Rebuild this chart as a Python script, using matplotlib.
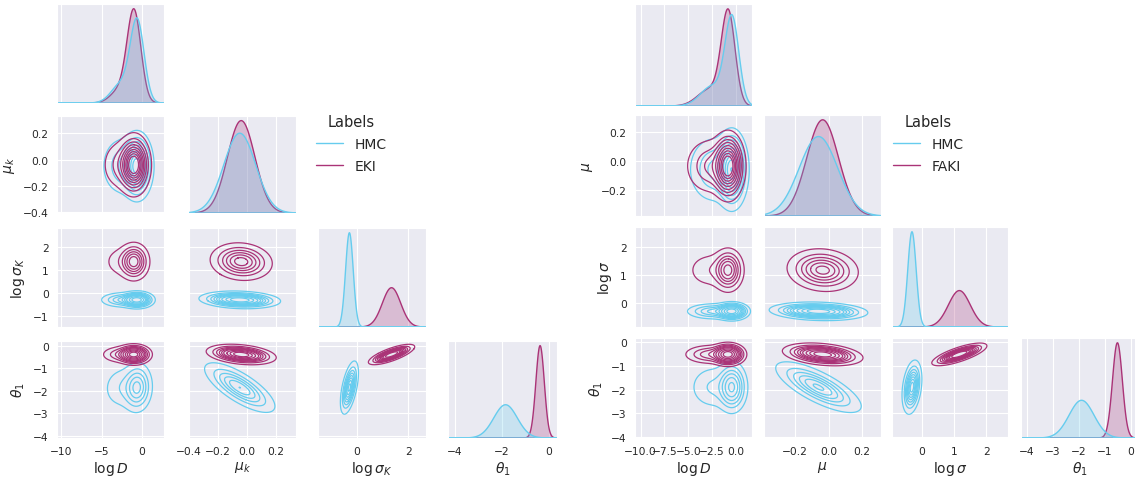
import numpy as np
import matplotlib.pyplot as plt
import seaborn as sns
from matplotlib.lines import Line2D

sns.set_style("darkgrid")
plt.rcParams["font.family"] = ["DejaVu Sans"]

W, H = 1135, 481

colors = ["#66CCEE", "#AA3377"]

# variable names per pair plot
left_names = [r"$\log D$", r"$\mu_k$", r"$\log\sigma_K$", r"$\theta_1$"]
right_names = [r"$\log D$", r"$\mu$", r"$\log\sigma$", r"$\theta_1$"]
left_methods = ["HMC", "EKI"]
right_methods = ["HMC", "FAKI"]

# posterior shapes (order: log D, mu, log sigma, theta_1)
# tail = extra component on log D: mean, sd, weight
left_hmc_mean = [-0.6, -0.05, -0.30, -1.85]
left_hmc_sd = [0.85, 0.11, 0.15, 0.50]
left_hmc_tail = [-2.6, 1.2, 0.25]
left_hmc_corr = [[1.0, 0.0, 0.0, 0.05],
                 [0.0, 1.0, -0.15, -0.75],
                 [0.0, -0.15, 1.0, 0.55],
                 [0.05, -0.75, 0.55, 1.0]]

left_eki_mean = [-1.0, -0.04, 1.35, -0.38]
left_eki_sd = [0.85, 0.095, 0.36, 0.18]
left_eki_tail = [-2.8, 1.1, 0.15]
left_eki_corr = [[1.0, 0.0, 0.0, 0.0],
                 [0.0, 1.0, -0.1, -0.3],
                 [0.0, -0.1, 1.0, 0.75],
                 [0.0, -0.3, 0.75, 1.0]]

right_hmc_mean = [-0.4, -0.06, -0.30, -1.90]
right_hmc_sd = [0.72, 0.115, 0.13, 0.48]
right_hmc_tail = [-2.4, 1.3, 0.30]
right_hmc_corr = [[1.0, 0.0, 0.0, 0.0],
                  [0.0, 1.0, -0.15, -0.75],
                  [0.0, -0.15, 1.0, 0.3],
                  [0.0, -0.75, 0.3, 1.0]]

right_faki_mean = [-0.8, -0.035, 1.17, -0.52]
right_faki_sd = [0.72, 0.095, 0.34, 0.19]
right_faki_tail = [-2.7, 1.3, 0.25]
right_faki_corr = [[1.0, 0.0, 0.0, 0.0],
                   [0.0, 1.0, -0.1, -0.3],
                   [0.0, -0.1, 1.0, 0.75],
                   [0.0, -0.3, 0.75, 1.0]]

# axis ranges and ticks
left_xlims = [(-10.5, 2.7), (-0.407, 0.338), (-1.53, 2.7), (-4.3, 0.34)]
left_ylims = [None, (-0.405, 0.33), (-1.47, 2.8), (-4.09, 0.22)]
left_xticks = [[-10, -5, 0], [-0.4, -0.2, 0.0, 0.2], [0, 2], [-4, -2, 0]]
left_yticks = [None, [-0.4, -0.2, 0.0, 0.2], [-1, 0, 1, 2], [-4, -3, -2, -1, 0]]

right_xlims = [(-10.6, 1.7), (-0.386, 0.314), (-0.92, 2.68), (-4.23, 0.31)]
right_ylims = [None, (-0.38, 0.317), (-0.86, 2.71), (-4.04, 0.17)]
right_xticks = [[-10, -7.5, -5, -2.5, 0], [-0.2, 0.0, 0.2], [0, 1, 2], [-4, -3, -2, -1, 0]]
right_yticks = [None, [-0.2, 0.0, 0.2], [0, 1, 2], [-4, -3, -2, -1, 0]]

# panel edges in pixels
left_cols = [(57, 164), (188, 296), (318, 426), (448, 557)]
left_rows = [(5, 104), (117, 214), (229, 328), (342, 439)]
right_cols = [(635, 752), (764, 881), (892, 1008), (1021, 1139)]
right_rows = [(5, 107), (116, 217), (228, 328), (339, 439)]


def mixture(mean, sd, tail):
    m2 = list(mean)
    s2 = list(sd)
    m2[0], s2[0], w = tail
    return [(1 - w, np.array(mean), np.array(sd)), (w, np.array(m2), np.array(s2))]


def pdf1(x, comps, k):
    out = np.zeros_like(x)
    for w, m, s in comps:
        out += w * np.exp(-0.5 * ((x - m[k]) / s[k]) ** 2) / (s[k] * np.sqrt(2 * np.pi))
    return out


def pdf2(X, Y, comps, corr, kx, ky):
    r = corr[kx][ky]
    out = np.zeros_like(X)
    for w, m, s in comps:
        u = (X - m[kx]) / s[kx]
        v = (Y - m[ky]) / s[ky]
        q = (u * u - 2 * r * u * v + v * v) / (1 - r * r)
        out += w * np.exp(-0.5 * q) / (2 * np.pi * s[kx] * s[ky] * np.sqrt(1 - r * r))
    return out


def support(comps, k):
    lo = min(m[k] - 3.5 * s[k] for w, m, s in comps)
    hi = max(m[k] + 3.5 * s[k] for w, m, s in comps)
    return np.linspace(lo, hi, 200)


def iso_levels(dens, n=10, thresh=0.05):
    vals = np.concatenate([d.ravel() for d in dens])
    srt = np.sort(vals)[::-1]
    cum = np.cumsum(srt) / vals.sum()
    idx = np.searchsorted(cum, 1 - np.linspace(thresh, 1, n))
    return np.unique(np.take(srt, idx, mode="clip"))


def px_axes(fig, xs, ys):
    x0, x1 = xs
    y0, y1 = ys
    return fig.add_axes([x0 / W, 1 - y1 / H, (x1 - x0) / W, (y1 - y0) / H])


def pair_grid(fig, cols, rows, names, fits, xlims, ylims, xticks, yticks):
    mixes = [(mixture(m, s, t), c) for m, s, t, c in fits]
    for i in range(4):
        for j in range(i + 1):
            ax = px_axes(fig, cols[j], rows[i])
            ax.set_xlim(xlims[j])
            ax.set_xticks(xticks[j])
            ax.tick_params(labelsize=7.7, colors=".15", pad=2.5)
            if i == j:
                x = np.linspace(xlims[j][0], xlims[j][1], 400)
                # draw second method first so HMC ends up on top
                for n in [1, 0]:
                    comps = mixes[n][0]
                    y = 0.5 * pdf1(x, comps, j)
                    ax.fill_between(x, 0, y, facecolor=colors[n], alpha=0.25,
                                    edgecolor="none")
                    ax.fill_between(x, 0, y, facecolor="none",
                                    edgecolor=colors[n], linewidth=1.0)
                ax.set_ylim(bottom=0)
                ax.yaxis.set_visible(False)
            else:
                grids = []
                for comps, corr in mixes:
                    gx = support(comps, j)
                    gy = support(comps, i)
                    X, Y = np.meshgrid(gx, gy)
                    grids.append((X, Y, 0.5 * pdf2(X, Y, comps, corr, j, i)))
                levels = iso_levels([g[2] for g in grids])
                for n, (X, Y, Z) in enumerate(grids):
                    ax.contour(X, Y, Z, levels=levels[:-1], colors=colors[n],
                               linewidths=0.9)
                ax.set_ylim(ylims[i])
                ax.set_yticks(yticks[i])
                ax.set_xlim(xlims[j])
                if j == 0:
                    ax.set_ylabel(names[i], fontsize=10, color=".15")
                else:
                    ax.tick_params(labelleft=False)
            if i < 3:
                ax.tick_params(labelbottom=False)
            else:
                ax.set_xlabel(names[j], fontsize=10, color=".15", labelpad=2)


fig = plt.figure(figsize=(W / 100, H / 100), dpi=100)

pair_grid(fig, left_cols, left_rows, left_names,
          [(left_hmc_mean, left_hmc_sd, left_hmc_tail, left_hmc_corr),
           (left_eki_mean, left_eki_sd, left_eki_tail, left_eki_corr)],
          left_xlims, left_ylims, left_xticks, left_yticks)
pair_grid(fig, right_cols, right_rows, right_names,
          [(right_hmc_mean, right_hmc_sd, right_hmc_tail, right_hmc_corr),
           (right_faki_mean, right_faki_sd, right_faki_tail, right_faki_corr)],
          right_xlims, right_ylims, right_xticks, right_yticks)

for methods, x_anchor in [(left_methods, 310), (right_methods, 887)]:
    handles = [Line2D([], [], color=colors[n], lw=1.0) for n in range(2)]
    leg = fig.legend(handles, methods, title="Labels", loc="upper left",
                     bbox_to_anchor=(x_anchor / W, 1 - 109 / H), frameon=False,
                     fontsize=10, title_fontsize=10.5, borderaxespad=0,
                     handlelength=2.0, labelspacing=0.6)
    for t in leg.get_texts():
        t.set_color(".15")
    leg.get_title().set_color(".15")

fig.savefig("out.png", dpi=100)
